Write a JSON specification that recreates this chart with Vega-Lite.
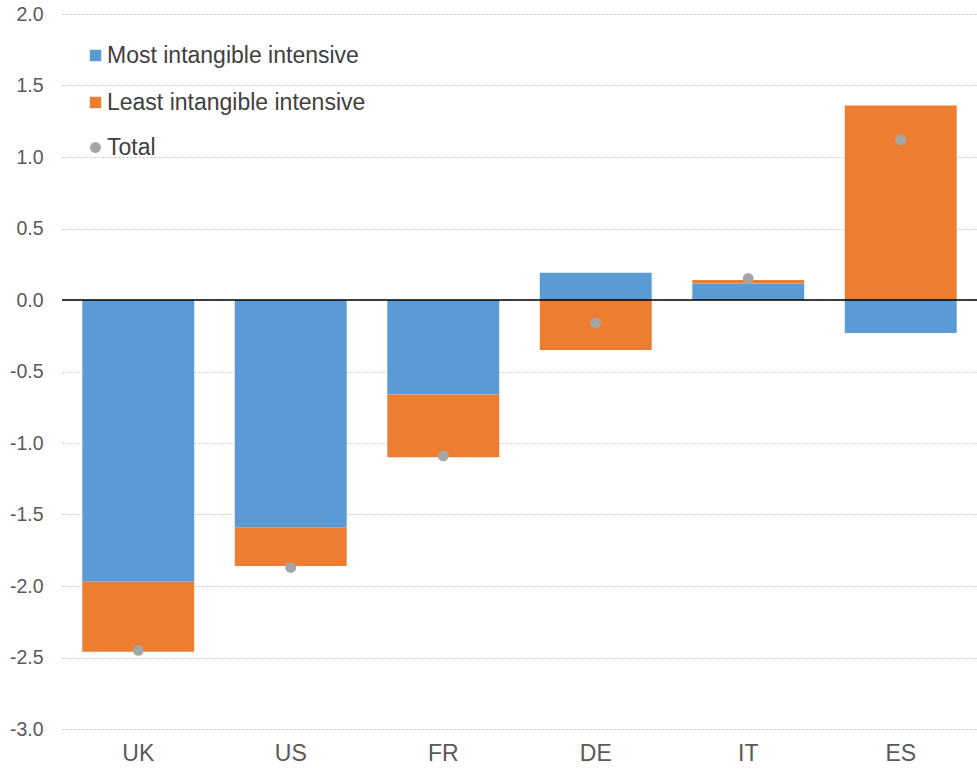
{
  "$schema": "https://vega.github.io/schema/vega-lite/v6.json",
  "width": 915,
  "height": 715,
  "autosize": {"type": "none"},
  "padding": {"left": 62, "top": 14, "right": 0, "bottom": 40},
  "background": "white",
  "config": {
    "view": {"stroke": null},
    "font": "Liberation Sans",
    "axis": {"labelFont": "Liberation Sans", "labelColor": "#595959"},
    "legend": {"labelFont": "Liberation Sans"}
  },
  "datasets": {
    "bars": [
      {"country": "UK", "series": "Most intangible intensive", "ord": 1, "value": -1.97},
      {"country": "UK", "series": "Least intangible intensive", "ord": 2, "value": -0.49},
      {"country": "US", "series": "Most intangible intensive", "ord": 1, "value": -1.59},
      {"country": "US", "series": "Least intangible intensive", "ord": 2, "value": -0.27},
      {"country": "FR", "series": "Most intangible intensive", "ord": 1, "value": -0.66},
      {"country": "FR", "series": "Least intangible intensive", "ord": 2, "value": -0.44},
      {"country": "DE", "series": "Most intangible intensive", "ord": 1, "value": 0.19},
      {"country": "DE", "series": "Least intangible intensive", "ord": 2, "value": -0.35},
      {"country": "IT", "series": "Most intangible intensive", "ord": 1, "value": 0.115},
      {"country": "IT", "series": "Least intangible intensive", "ord": 2, "value": 0.025},
      {"country": "ES", "series": "Most intangible intensive", "ord": 1, "value": -0.23},
      {"country": "ES", "series": "Least intangible intensive", "ord": 2, "value": 1.36}
    ],
    "totals": [
      {"country": "UK", "name": "Total", "value": -2.45},
      {"country": "US", "name": "Total", "value": -1.87},
      {"country": "FR", "name": "Total", "value": -1.09},
      {"country": "DE", "name": "Total", "value": -0.16},
      {"country": "IT", "name": "Total", "value": 0.15},
      {"country": "ES", "name": "Total", "value": 1.12}
    ]
  },
  "layer": [
    {
      "data": {"name": "bars"},
      "mark": {"type": "bar"},
      "encoding": {
        "x": {
          "field": "country",
          "type": "nominal",
          "sort": ["UK", "US", "FR", "DE", "IT", "ES"],
          "scale": {"paddingInner": 0.266, "paddingOuter": 0.133},
          "axis": {
            "title": null,
            "domain": false,
            "ticks": false,
            "labelAngle": 0,
            "labelFontSize": 23,
            "labelPadding": 13
          }
        },
        "y": {
          "field": "value",
          "type": "quantitative",
          "stack": "zero",
          "scale": {"domain": [-3, 2], "nice": false, "zero": false},
          "axis": {
            "title": null,
            "domain": false,
            "ticks": false,
            "values": [-3, -2.5, -2, -1.5, -1, -0.5, 0, 0.5, 1, 1.5, 2],
            "format": ".1f",
            "labelExpr": "replace(datum.label, '\u2212', '-')",
            "labelFontSize": 19.5,
            "labelPadding": 19,
            "gridColor": "#c4c4c4",
            "gridDash": [2, 2],
            "gridWidth": 1
          }
        },
        "order": {"field": "ord", "type": "quantitative"},
        "color": {
          "field": "series",
          "type": "nominal",
          "scale": {
            "domain": ["Most intangible intensive", "Least intangible intensive"],
            "range": ["#5B9BD5", "#ED7D31"]
          },
          "legend": {
            "title": null,
            "orient": "none",
            "legendX": 22,
            "legendY": 30,
            "symbolType": "square",
            "symbolSize": 130,
            "symbolStrokeWidth": 0,
            "labelFontSize": 23,
            "labelColor": "#404040",
            "labelOffset": 0,
            "labelLimit": 0,
            "rowPadding": 23
          }
        }
      }
    },
    {
      "data": {"values": [{"y": 0}]},
      "mark": {"type": "rule", "color": "#000000", "strokeWidth": 1.5},
      "encoding": {"y": {"field": "y", "type": "quantitative"}}
    },
    {
      "data": {"name": "totals"},
      "mark": {"type": "point", "filled": true, "color": "#A5A5A5", "size": 120, "opacity": 1},
      "encoding": {
        "x": {"field": "country", "type": "nominal", "sort": ["UK", "US", "FR", "DE", "IT", "ES"]},
        "y": {"field": "value", "type": "quantitative"},
        "shape": {
          "field": "name",
          "type": "nominal",
          "scale": {"domain": ["Total"], "range": ["circle"]},
          "legend": {
            "title": null,
            "orient": "none",
            "legendX": 22,
            "legendY": 122,
            "symbolSize": 120,
            "symbolFillColor": "#A5A5A5",
            "symbolStrokeWidth": 0,
            "labelFontSize": 23,
            "labelColor": "#404040",
            "labelOffset": 0
          }
        }
      }
    }
  ]
}
